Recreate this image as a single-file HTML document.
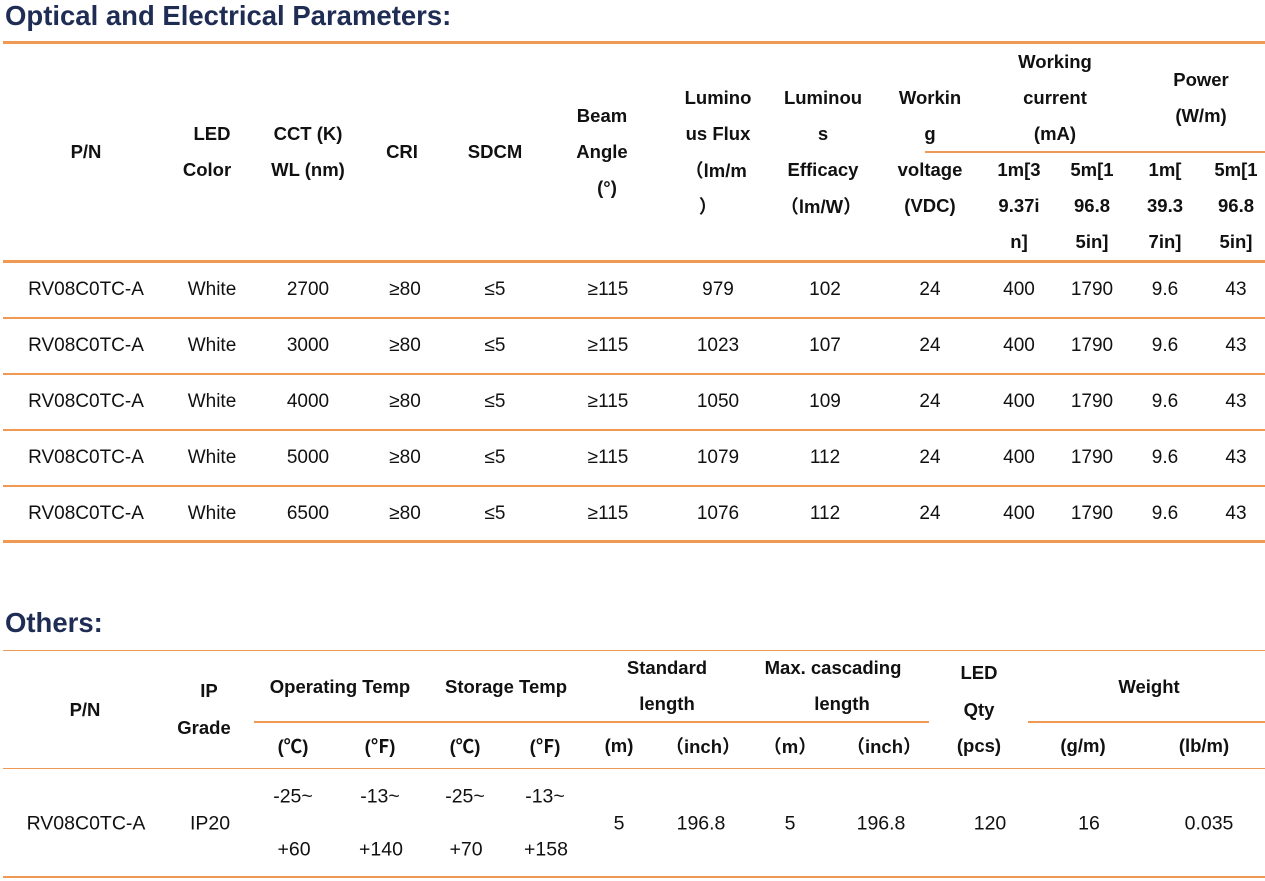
<!DOCTYPE html>
<html><head><meta charset="utf-8"><style>
body{margin:0;width:1265px;height:881px;background:#fff;position:relative;overflow:hidden;font-family:"Liberation Sans","Noto Sans CJK SC",sans-serif;color:#111}
.t{position:absolute;transform:translate(-50%,-50%);white-space:nowrap;font-size:19px}
.h{position:absolute;transform:translate(-50%,-50%);white-space:nowrap;font-size:18.5px;font-weight:bold}
.c{position:absolute;transform:translate(-50%,-50%);white-space:nowrap;font-size:19.5px}
.ch{position:absolute;transform:translate(-50%,-50%);white-space:nowrap;font-size:18.5px;font-weight:bold}
.l{position:absolute;background:#ee9a55;height:2px}
.ti{position:absolute;left:5px;font-weight:bold;color:#1f2d55;font-size:27.5px}
</style></head><body>
<div class="ti" style="top:0px">Optical and Electrical Parameters:</div>
<div class="l" style="left:3px;width:1262px;top:41px;height:3px"></div>
<div class="l" style="left:925px;width:340px;top:151px"></div>
<div class="l" style="left:3px;width:1262px;top:260px;height:3px"></div>
<div class="l" style="left:3px;width:1262px;top:317px"></div>
<div class="l" style="left:3px;width:1262px;top:373px"></div>
<div class="l" style="left:3px;width:1262px;top:429px"></div>
<div class="l" style="left:3px;width:1262px;top:485px"></div>
<div class="l" style="left:3px;width:1262px;top:540px;height:3px"></div>

<div class="h" style="left:86px;top:152px">P/N</div>
<div class="h" style="left:212px;top:134px">LED</div><div class="h" style="left:207px;top:170px">Color</div>
<div class="h" style="left:308px;top:134px">CCT (K)</div><div class="h" style="left:308px;top:170px">WL (nm)</div>
<div class="h" style="left:402px;top:152px">CRI</div>
<div class="h" style="left:495px;top:152px">SDCM</div>
<div class="h" style="left:602px;top:116px">Beam</div><div class="h" style="left:602px;top:152px">Angle</div><div class="h" style="left:607px;top:188px">(°)</div>
<div class="h" style="left:718px;top:98px">Lumino</div><div class="h" style="left:718px;top:134px">us Flux</div><div class="h" style="left:716px;top:170px">（lm/m</div><div class="h" style="left:708px;top:206px">）</div>
<div class="h" style="left:823px;top:98px">Luminou</div><div class="h" style="left:823px;top:134px">s</div><div class="h" style="left:823px;top:170px">Efficacy</div><div class="h" style="left:821px;top:206px">（lm/W）</div>
<div class="h" style="left:930px;top:98px">Workin</div><div class="h" style="left:930px;top:134px">g</div><div class="h" style="left:930px;top:170px">voltage</div><div class="h" style="left:930px;top:206px">(VDC)</div>
<div class="h" style="left:1055px;top:62px">Working</div><div class="h" style="left:1055px;top:98px">current</div><div class="h" style="left:1055px;top:134px">(mA)</div>
<div class="h" style="left:1201px;top:80px">Power</div><div class="h" style="left:1201px;top:116px">(W/m)</div>
<div class="h" style="left:1019px;top:170px">1m[3</div><div class="h" style="left:1019px;top:206px">9.37i</div><div class="h" style="left:1019px;top:242px">n]</div>
<div class="h" style="left:1092px;top:170px">5m[1</div><div class="h" style="left:1092px;top:206px">96.8</div><div class="h" style="left:1092px;top:242px">5in]</div>
<div class="h" style="left:1165px;top:170px">1m[</div><div class="h" style="left:1165px;top:206px">39.3</div><div class="h" style="left:1165px;top:242px">7in]</div>
<div class="h" style="left:1236px;top:170px">5m[1</div><div class="h" style="left:1236px;top:206px">96.8</div><div class="h" style="left:1236px;top:242px">5in]</div>

<div id="rows"></div>
<script>
var d=[[2700,979,102],[3000,1023,107],[4000,1050,109],[5000,1079,112],[6500,1076,112]];
var xs=[86,212,308,405,495,608,718,825,930,1019,1092,1165,1236];var h='';
d.forEach(function(r,i){var y=290+56*i;var v=['RV08C0TC-A','White',r[0],'≥80','≤5','≥115',r[1],r[2],24,400,1790,9.6,43];
v.forEach(function(s,j){h+='<div class="t" style="left:'+xs[j]+'px;top:'+y+'px">'+s+'</div>';});});
document.getElementById('rows').innerHTML=h;
</script>

<div class="ti" style="top:607px">Others:</div>
<div class="l" style="left:3px;width:1262px;top:650px;height:1px"></div>
<div class="l" style="left:254px;width:675px;top:721px"></div>
<div class="l" style="left:1028px;width:237px;top:721px"></div>
<div class="l" style="left:3px;width:1262px;top:768px;height:1px"></div>
<div class="l" style="left:3px;width:1262px;top:876px"></div>

<div class="ch" style="left:85px;top:710px">P/N</div>
<div class="ch" style="left:209px;top:691px">IP</div><div class="ch" style="left:204px;top:728px">Grade</div>
<div class="ch" style="left:340px;top:687px">Operating Temp</div>
<div class="ch" style="left:506px;top:687px">Storage Temp</div>
<div class="ch" style="left:667px;top:668px">Standard</div><div class="ch" style="left:667px;top:704px">length</div>
<div class="ch" style="left:833px;top:668px">Max. cascading</div><div class="ch" style="left:842px;top:704px">length</div>
<div class="ch" style="left:979px;top:673px">LED</div><div class="ch" style="left:979px;top:710px">Qty</div>
<div class="ch" style="left:1149px;top:687px">Weight</div>
<div class="ch" style="left:293px;top:746px">(℃)</div>
<div class="ch" style="left:380px;top:746px">(℉)</div>
<div class="ch" style="left:465px;top:746px">(℃)</div>
<div class="ch" style="left:545px;top:746px">(℉)</div>
<div class="ch" style="left:619px;top:746px">(m)</div>
<div class="ch" style="left:703px;top:746px">（inch）</div>
<div class="ch" style="left:790px;top:746px">（m）</div>
<div class="ch" style="left:884px;top:746px">（inch）</div>
<div class="ch" style="left:979px;top:746px">(pcs)</div>
<div class="ch" style="left:1083px;top:746px">(g/m)</div>
<div class="ch" style="left:1204px;top:746px">(lb/m)</div>

<div class="c" style="left:86px;top:824px">RV08C0TC-A</div>
<div class="c" style="left:210px;top:824px">IP20</div>
<div class="c" style="left:293px;top:797px">-25~</div><div class="c" style="left:294px;top:850px">+60</div>
<div class="c" style="left:380px;top:797px">-13~</div><div class="c" style="left:381px;top:850px">+140</div>
<div class="c" style="left:465px;top:797px">-25~</div><div class="c" style="left:466px;top:850px">+70</div>
<div class="c" style="left:545px;top:797px">-13~</div><div class="c" style="left:546px;top:850px">+158</div>
<div class="c" style="left:619px;top:824px">5</div>
<div class="c" style="left:701px;top:824px">196.8</div>
<div class="c" style="left:790px;top:824px">5</div>
<div class="c" style="left:881px;top:824px">196.8</div>
<div class="c" style="left:990px;top:824px">120</div>
<div class="c" style="left:1089px;top:824px">16</div>
<div class="c" style="left:1209px;top:824px">0.035</div>
</body></html>
